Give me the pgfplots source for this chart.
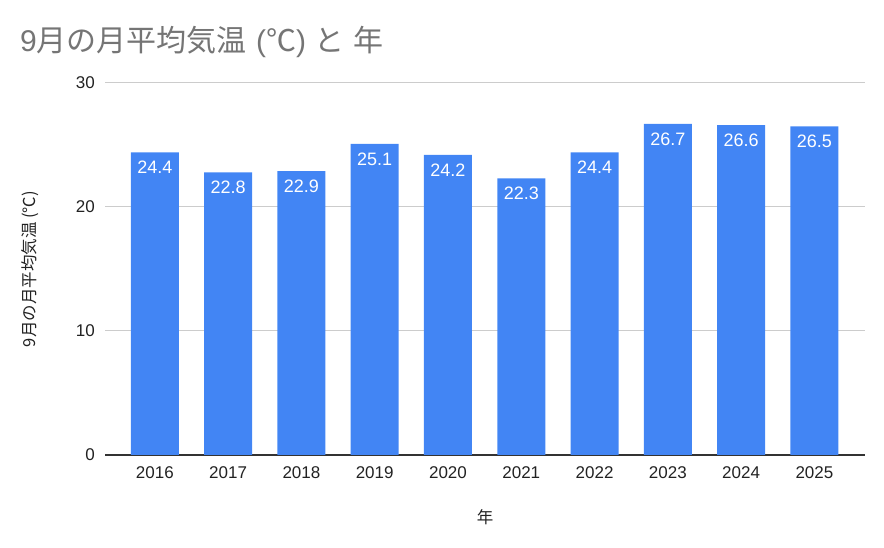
\documentclass[border=0pt]{standalone}
\usepackage{pgfplots}
\pgfplotsset{compat=1.18}
\usepackage{fontspec}
\setmainfont{Liberation Sans}
\newfontfamily\cjk{Noto Sans CJK JP}
\definecolor{barblue}{HTML}{4285F4}
\definecolor{titlegray}{HTML}{757575}
\definecolor{gridgray}{HTML}{CCCCCC}
\definecolor{axisdark}{HTML}{333333}
\definecolor{txt}{HTML}{222222}
\begin{document}
\begin{tikzpicture}
\begin{axis}[
 at={(105bp,93bp)}, anchor=south west,
 scale only axis, width=760bp, height=372bp,
 xmin=-0.68, xmax=9.69, ymin=0, ymax=30,
 ybar, bar width=48bp, bar shift=0pt,
 xtick={0,1,2,3,4,5,6,7,8,9},
 xticklabels={2016,2017,2018,2019,2020,2021,2022,2023,2024,2025},
 ytick={0,10,20,30},
 major tick length=0pt,
 ymajorgrids, grid style={gridgray, line width=1bp},
 axis x line*=bottom, axis y line*=left,
 x axis line style={axisdark, line width=1.3bp},
 y axis line style={draw=none},
 /pgf/number format/assume math mode=true,
 ticklabel style={font=\fontsize{17bp}{20bp}\selectfont, text=txt, inner sep=0pt},
 xticklabel style={yshift=-11bp},
 yticklabel style={xshift=-10bp},
 xlabel={\cjk 年}, ylabel={\cjk 9月の月平均気温 (℃)},
 every axis x label/.style={at={(axis description cs:0.5,-0.167)}, anchor=center, font=\fontsize{16.5bp}{19bp}\selectfont, text=txt},
 every axis y label/.style={at={(axis description cs:-0.099,0.5)}, rotate=90, anchor=center, font=\fontsize{16.5bp}{19bp}\selectfont, text=txt},
 nodes near coords={\pgfmathprintnumber[fixed,fixed zerofill,precision=1]{\pgfplotspointmeta}},
 nodes near coords style={anchor=north, yshift=-8.5bp, inner sep=0pt, text=white, font=\fontsize{18bp}{21bp}\selectfont},
]
\addplot[fill=barblue, draw=none] coordinates {(0,24.4) (1,22.8) (2,22.9) (3,25.1) (4,24.2) (5,22.3) (6,24.4) (7,26.7) (8,26.6) (9,26.5)};
\end{axis}
\pgfresetboundingbox
\path[use as bounding box] (0,0) rectangle (884bp,548bp);
\node[anchor=west, inner sep=0pt, text=titlegray, font=\fontsize{30bp}{35bp}\selectfont] at (20bp,506bp) {9{\cjk 月の月平均気温}\hspace{1bp} ({\cjk ℃}) {\cjk と}\hspace{1bp} {\cjk 年}};
\end{tikzpicture}
\end{document}
